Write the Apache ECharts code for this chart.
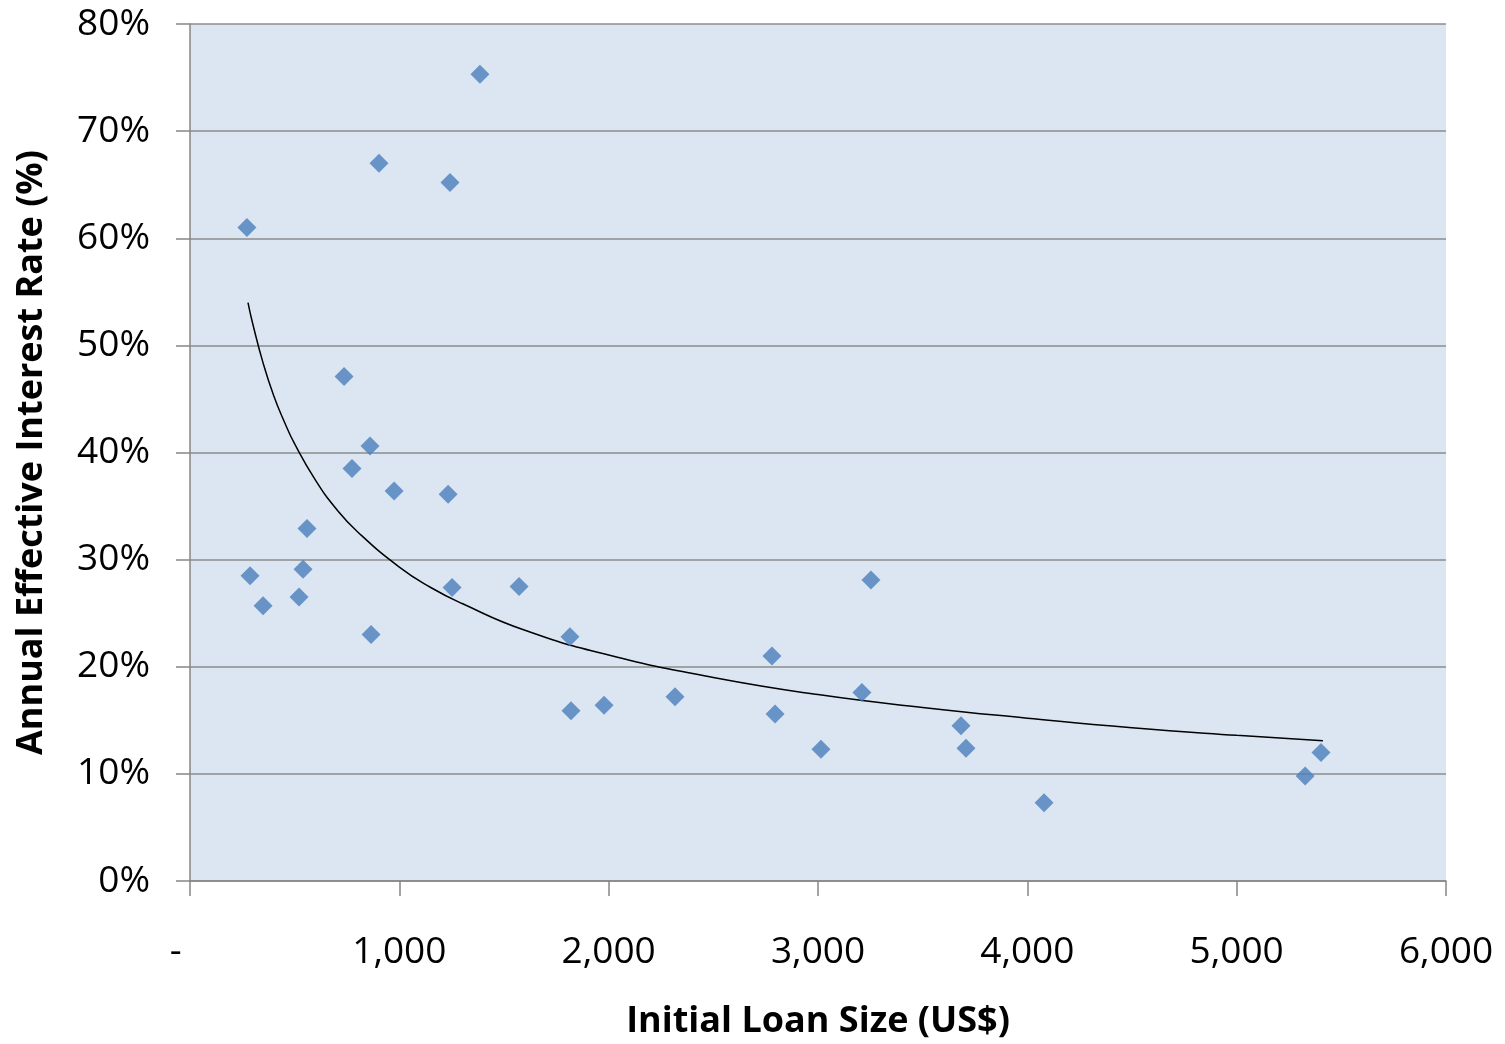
<!DOCTYPE html>
<html><head><meta charset="utf-8">
<script src="https://cdn.jsdelivr.net/npm/echarts@6/dist/echarts.min.js"></script>
<style>html,body{margin:0;padding:0;background:#fff}#c{width:1505px;height:1044px}</style>
</head><body><div id="c"></div>
<script>
// Scatter data: initial loan size (US$) and annual effective interest rate (%)
const loanSize = [272, 287, 349, 521, 540, 559, 736, 774, 860, 865, 903, 975, 1233, 1242, 1252, 1385, 1572, 1815, 1820, 1978, 2317, 2780, 2795, 3014, 3210, 3253, 3683, 3707, 4080, 5327, 5403];
const interestRate = [61.0, 28.5, 25.7, 26.5, 29.1, 32.9, 47.1, 38.5, 40.6, 23.0, 67.0, 36.4, 36.1, 65.2, 27.4, 75.3, 27.5, 22.8, 15.9, 16.4, 17.2, 21.0, 15.6, 12.3, 17.6, 28.1, 14.5, 12.4, 7.3, 9.8, 12.0];
// Trend line
const trendX = [277, 300, 350, 400, 450, 500, 600, 700, 800, 1000, 1150, 1300, 1600, 2000, 2500, 3000, 3500, 4000, 4500, 5000, 5412];
const trendY = [54.0, 52.0, 48.3, 45.3, 42.9, 40.8, 37.4, 34.7, 32.6, 29.3, 27.4, 25.9, 23.4, 21.1, 19.0, 17.4, 16.2, 15.2, 14.3, 13.6, 13.1];
const xTicks = [0, 1000, 2000, 3000, 4000, 5000, 6000];
const yTicks = [0, 10, 20, 30, 40, 50, 60, 70, 80];

const FONT = '"Open Sans", sans-serif';
const chart = echarts.init(document.getElementById('c'), null, {renderer: 'canvas'});
chart.setOption({
  animation: false,
  backgroundColor: '#ffffff',
  grid: {left: 190, right: 59, top: 24, bottom: 163, containLabel: false, outerBoundsMode: 'none',
         show: true, backgroundColor: '#DCE6F2', borderWidth: 0},
  xAxis: {
    type: 'value', min: xTicks[0], max: xTicks[xTicks.length - 1], interval: 1000,
    name: 'Initial Loan Size (US$)', nameLocation: 'middle', nameGap: 123,
    nameTextStyle: {fontFamily: FONT, fontSize: 36, fontWeight: 'bold', color: '#000'},
    axisLine: {show: true, onZero: false, lineStyle: {color: '#868686', width: 1.5}},
    axisTick: {show: true, length: 15, lineStyle: {color: '#868686', width: 1.5}},
    splitLine: {show: false},
    axisLabel: {
      margin: 53, fontFamily: FONT, fontSize: 37, color: '#000',
      formatter: v => v === 0 ? '-   ' : v.toLocaleString('en-US')
    }
  },
  yAxis: {
    type: 'value', min: yTicks[0], max: yTicks[yTicks.length - 1], interval: 10,
    name: 'Annual Effective Interest Rate (%)', nameLocation: 'middle', nameGap: 140,
    nameTextStyle: {fontFamily: FONT, fontSize: 36, fontWeight: 'bold', color: '#000'},
    axisLine: {show: true, lineStyle: {color: '#868686', width: 1.5}},
    axisTick: {show: true, length: 14, lineStyle: {color: '#868686', width: 1.5}},
    splitLine: {show: true, lineStyle: {color: '#8C8C8C', width: 1.5}},
    axisLabel: {margin: 40, fontFamily: FONT, fontSize: 37, color: '#000', formatter: v => v + '%'}
  },
  series: [
    {
      type: 'line', data: trendX.map((x, i) => [x, trendY[i]]),
      smooth: 0.5, showSymbol: false, symbol: 'none',
      lineStyle: {color: '#000', width: 1.5}, z: 2
    },
    {
      type: 'scatter', data: loanSize.map((x, i) => [x, interestRate[i]]),
      symbol: 'diamond', symbolSize: 19,
      itemStyle: {color: '#4A7EBB'}, z: 3
    }
  ]
});
</script></body></html>
